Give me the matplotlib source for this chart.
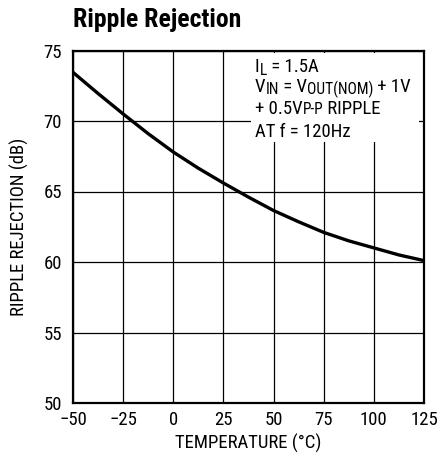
import matplotlib
matplotlib.use("Agg")
import matplotlib.pyplot as plt
from matplotlib.transforms import IdentityTransform

# Temperature sweep (°C) and ripple rejection (dB)
temperature = [-50, -37.5, -25, -12.5, 0, 12.5, 25, 37.5, 50, 62.5, 75, 87.5, 100, 112.5, 125]
rejection = [73.45, 71.95, 70.5, 69.1, 67.8, 66.65, 65.6, 64.6, 63.65, 62.85, 62.1, 61.5, 61.0, 60.5, 60.1]

x_ticks = [-50, -25, 0, 25, 50, 75, 100, 125]
x_tick_labels = ["\u221250", "\u221225", "0", "25", "50", "75", "100", "125"]
y_ticks = [50, 55, 60, 65, 70, 75]

title = "Ripple Rejection"
x_label = "TEMPERATURE (\u00b0C)"
y_label = "RIPPLE REJECTION (dB)"
# test conditions: each line is a run of (text, subscript drop in px or None for normal text)
note_lines = [
    [("I", None), ("L", 2.7), (" = 1.5A", None)],
    [("V", None), ("IN", 2.7), (" = V", None), ("OUT(NOM)", 2.7), (" + 1V", None)],
    [("+ 0.5V", None), ("P-P", 0.0), (" RIPPLE", None)],
    [("AT f = 120Hz", None)],
]
note_baselines = [72.2, 91.7, 114.0, 137.3]

font = "Roboto Condensed"
plt.rcParams["font.family"] = [font, "DejaVu Sans"]
fs = 13.5
fs_sub = 11.2

W, H = 443, 466
fig = plt.figure(figsize=(W / 100, H / 100), dpi=100)
L, R, T, B = 73, 424, 50.5, 403
ax = fig.add_axes([L / W, 1 - B / H, (R - L) / W, (B - T) / H])

ax.plot(temperature, rejection, color="black", lw=2.4, solid_capstyle="butt", zorder=3)

ax.set_xlim(-50, 125)
ax.set_ylim(50, 75)
ax.set_xticks(x_ticks)
ax.set_xticklabels(x_tick_labels)
ax.set_yticks(y_ticks)
ax.tick_params(axis="x", length=0, pad=6, labelsize=fs, colors="black")
ax.tick_params(axis="y", length=0, pad=8, labelsize=fs, colors="black")
ax.grid(True, color="black", lw=0.9)
ax.set_axisbelow(True)
for s in ax.spines.values():
    s.set_linewidth(1.6)

ax.set_xlabel(x_label, fontsize=fs, labelpad=3)
ax.set_ylabel(y_label, fontsize=fs, labelpad=10.5)

fig.text(L / W, 1 - 26.5 / H, title, fontsize=18.5, fontweight="bold", ha="left", va="baseline")

# white panel behind the test-condition note
to_ax = lambda px, py: ((px - L) / (R - L), (B - py) / (B - T))
x0, y0 = to_ax(251, 141.5)
x1, y1 = to_ax(419, 53.5)
ax.add_patch(plt.Rectangle((x0, y0), x1 - x0, y1 - y0, transform=ax.transAxes,
                           facecolor="white", edgecolor="none", zorder=2))

renderer = fig.canvas.get_renderer()
for runs, base in zip(note_lines, note_baselines):
    x = 255.0
    for text, drop in runs:
        size = fs if drop is None else fs_sub
        y = H - base - (0 if drop is None else drop)
        t = fig.text(x, y, text, fontsize=size, ha="left", va="baseline",
                     transform=IdentityTransform(), zorder=5)
        x += t.get_window_extent(renderer).width

fig.savefig("out.png", dpi=100)
